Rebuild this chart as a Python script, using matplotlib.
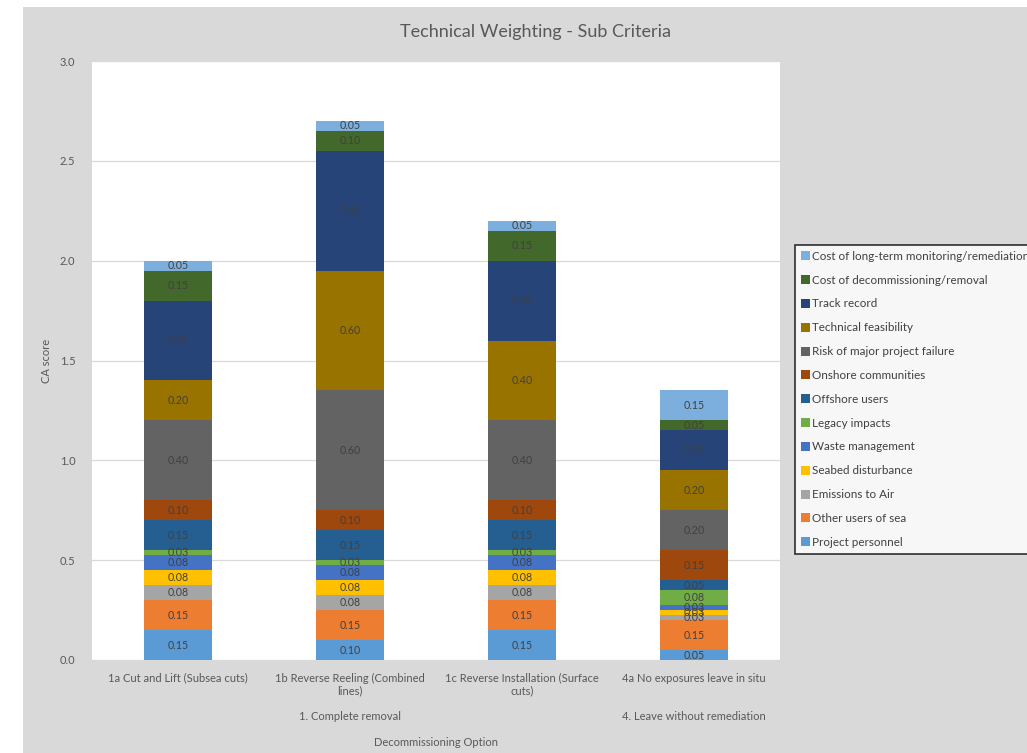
import matplotlib
matplotlib.use("Agg")
import matplotlib.pyplot as plt
import numpy as np
from matplotlib.patches import Rectangle

plt.rcParams['font.family'] = ['Lato', 'DejaVu Sans']

options = ["1a Cut and Lift (Subsea cuts)",
           "1b Reverse Reeling (Combined\nlines)",
           "1c Reverse Installation (Surface\ncuts)",
           "4a No exposures leave in situ"]
groups = ["1. Complete removal", "4. Leave without remediation"]
group_centers = [1, 3]

criteria = ["Project personnel", "Other users of sea", "Emissions to Air",
            "Seabed disturbance", "Waste management", "Legacy impacts",
            "Offshore users", "Onshore communities", "Risk of major project failure",
            "Technical feasibility", "Track record",
            "Cost of decommissioning/removal", "Cost of long-term monitoring/remediation"]

project_personnel = [0.15, 0.10, 0.15, 0.05]
other_users_of_sea = [0.15, 0.15, 0.15, 0.15]
emissions_to_air = [0.075, 0.075, 0.075, 0.025]
seabed_disturbance = [0.075, 0.075, 0.075, 0.025]
waste_management = [0.075, 0.075, 0.075, 0.025]
legacy_impacts = [0.025, 0.025, 0.025, 0.075]
offshore_users = [0.15, 0.15, 0.15, 0.05]
onshore_communities = [0.10, 0.10, 0.10, 0.15]
risk_major_failure = [0.40, 0.60, 0.40, 0.20]
technical_feasibility = [0.20, 0.60, 0.40, 0.20]
track_record = [0.40, 0.60, 0.40, 0.20]
cost_decommissioning = [0.15, 0.10, 0.15, 0.05]
cost_monitoring = [0.05, 0.05, 0.05, 0.15]

series = [project_personnel, other_users_of_sea, emissions_to_air,
          seabed_disturbance, waste_management, legacy_impacts,
          offshore_users, onshore_communities, risk_major_failure,
          technical_feasibility, track_record, cost_decommissioning,
          cost_monitoring]

colors = ["#5B9BD5", "#ED7D31", "#A5A5A5", "#FFC000", "#4472C4", "#70AD47",
          "#255E91", "#9E480E", "#636363", "#997300", "#264478", "#43682B",
          "#7CAFDD"]

W, H = 1027, 753
fig = plt.figure(figsize=(W / 100, H / 100), dpi=100)
fig.patch.set_facecolor("white")

# chart area background
fig.patches.append(Rectangle((23 / W, 0), 1 - 23 / W, 1 - 7 / H,
                             transform=fig.transFigure, facecolor="#D9D9D9",
                             edgecolor="none", zorder=-10))

ax = fig.add_axes([92 / W, (H - 660) / H, 688 / W, (660 - 61) / H])
ax.set_facecolor("white")

FS = 8
x = np.arange(len(options))
bottom = np.zeros(len(options))
handles = []
for name, vals, col in zip(criteria, series, colors):
    vals = np.array(vals)
    bars = ax.bar(x, vals, width=0.39, bottom=bottom, color=col,
                  edgecolor="none", label=name, zorder=3)
    handles.append(bars)
    for xi, b, v in zip(x, bottom, vals):
        ax.text(xi, b + v / 2, f"{v + 1e-9:.2f}", ha="center", va="center",
                fontsize=FS - 0.3, color="#404040", zorder=4)
    bottom = bottom + vals

ax.set_xlim(-0.5, len(options) - 0.5)
ax.set_ylim(0, 3.0)
ax.set_yticks(np.arange(0, 3.01, 0.5))
ax.set_yticklabels([f"{t:.1f}" for t in np.arange(0, 3.01, 0.5)],
                   fontsize=FS, color="#595959")
ax.set_xticks(x)
ax.set_xticklabels(options, fontsize=FS, color="#595959", linespacing=1.2)
ax.tick_params(axis="both", length=0)
ax.tick_params(axis="y", pad=12)
ax.tick_params(axis="x", pad=9)
ax.grid(axis="y", color="#D9D9D9", linewidth=0.9, zorder=0)
for s in ax.spines.values():
    s.set_visible(False)

ax.set_ylabel("CA score", fontsize=FS, color="#595959")
ax.yaxis.set_label_coords(-0.058, 0.5)

for g, gc in zip(groups, group_centers):
    ax.text(gc, -(716 - 660) / 599, g, transform=ax.get_xaxis_transform(),
            ha="center", va="center", fontsize=FS, color="#595959")
ax.text(0.5, -(742 - 660) / 599, "Decommissioning Option", transform=ax.transAxes,
        ha="center", va="center", fontsize=FS, color="#595959")

fig.text(536 / W, 1 - 32 / H, "Technical Weighting - Sub Criteria",
         ha="center", va="center", fontsize=13, color="#595959")

leg = fig.legend(handles[::-1], criteria[::-1], loc="upper left",
                 bbox_to_anchor=(795 / W, 1 - 245 / H), fontsize=8.4,
                 frameon=True, fancybox=False, handlelength=0.8,
                 handleheight=0.8, handletextpad=0.2, labelspacing=1.1,
                 borderpad=0.5, borderaxespad=0)
leg.get_frame().set_edgecolor("black")
leg.get_frame().set_linewidth(1.2)
leg.get_frame().set_facecolor("white")
for t in leg.get_texts():
    t.set_color("#404040")

fig.savefig("out.png", dpi=100)
